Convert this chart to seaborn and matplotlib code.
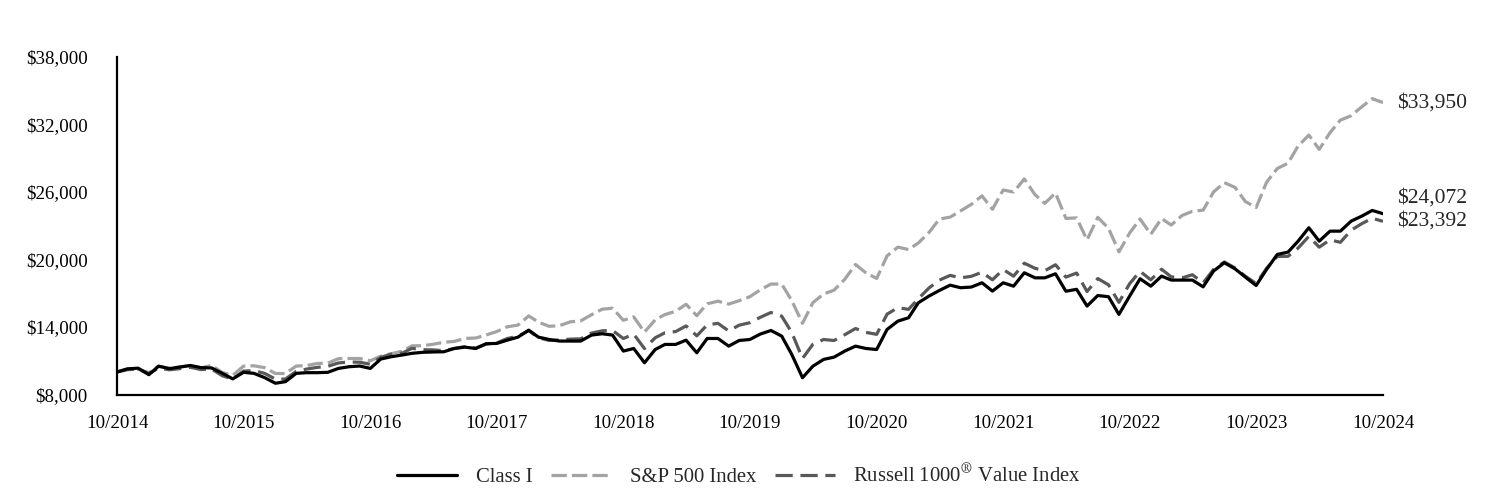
import pandas as pd
import matplotlib
matplotlib.use("Agg")
import matplotlib.pyplot as plt
from matplotlib.lines import Line2D
from matplotlib.ticker import FuncFormatter
import seaborn as sns

# growth of $10,000, month ends 10/2014 .. 10/2024
months = pd.date_range("2014-10-31", "2024-10-31", freq="ME")

class_i = [10000,
           10280, 10340, 9760, 10520, 10300, 10440, 10580, 10390, 10360, 9880, 9390, 9970,
           9880, 9500, 9000, 9140, 9880, 9940, 9940, 9970, 10320, 10470, 10530, 10320,
           11150, 11360, 11510, 11660, 11750, 11780, 11800, 12090, 12210, 12090, 12510, 12540,
           12830, 13100, 13720, 13100, 12890, 12750, 12750, 12750, 13280, 13400, 13280, 11860,
           12090, 10820, 12000, 12450, 12450, 12830, 11710, 12980, 12980, 12300, 12800, 12890,
           13370, 13690, 13190, 11560, 9490, 10520, 11120, 11320, 11860, 12300, 12090, 12000,
           13780, 14520, 14820, 16150, 16750, 17250, 17720, 17490, 17550, 17930, 17190, 17930,
           17630, 18820, 18370, 18370, 18730, 17180, 17350, 15860, 16800, 16690, 15120, 16750,
           18290, 17630, 18520, 18170, 18170, 18170, 17570, 18970, 19710, 19170, 18430, 17690,
           19120, 20450, 20660, 21630, 22820, 21630, 22520, 22520, 23410, 23860, 24360, 24072]

sp500 = [10000,
         10269, 10243, 9936, 10507, 10341, 10440, 10575, 10370, 10588, 9949, 9703, 10522,
         10553, 10387, 9872, 9859, 10528, 10569, 10759, 10787, 11185, 11201, 11203, 10999,
         11406, 11632, 11853, 12323, 12338, 12465, 12641, 12719, 12981, 13021, 13289, 13599,
         14016, 14172, 14984, 14431, 14064, 14118, 14458, 14548, 15089, 15581, 15670, 14598,
         14896, 13551, 14636, 15106, 15399, 16022, 15005, 16063, 16294, 16037, 16337, 16691,
         17297, 17820, 17813, 16347, 14328, 16165, 16935, 17272, 18246, 19558, 18815, 18314,
         20320, 21100, 20887, 21463, 22404, 23600, 23765, 24319, 24898, 25655, 24462, 26177,
         25996, 27161, 25757, 24987, 25914, 23654, 23697, 21742, 23746, 22777, 20679, 22354,
         23604, 22244, 23641, 23064, 23910, 24283, 24388, 26000, 26835, 26408, 25149, 24621,
         26869, 28089, 28561, 30086, 31055, 29788, 31265, 32387, 32782, 33579, 34298, 33950]

r1000v = [10000,
          10204, 10270, 9861, 10341, 10198, 10297, 10417, 10215, 10264, 9662, 9373, 10082,
          10125, 9877, 9368, 9374, 10049, 10259, 10411, 10502, 10805, 10890, 10868, 10691,
          11303, 11590, 11680, 12103, 11983, 11966, 11891, 12090, 12256, 12120, 12486, 12584,
          12976, 13172, 13681, 13040, 12807, 12846, 12920, 12949, 13457, 13661, 13689, 12978,
          13365, 12083, 13044, 13486, 13595, 14094, 13216, 14189, 14326, 13648, 14159, 14382,
          14858, 15291, 14962, 13514, 11204, 12462, 12889, 12799, 13315, 13866, 13524, 13347,
          15140, 15719, 15568, 16504, 17470, 18168, 18587, 18368, 18504, 18867, 18193, 19109,
          18519, 19672, 19216, 18996, 19534, 18435, 18796, 17155, 18307, 17746, 16192, 17854,
          18950, 18190, 19138, 18454, 18364, 18643, 17921, 19115, 19780, 19254, 18512, 17860,
          19209, 20274, 20285, 21017, 22053, 21095, 21746, 21527, 22603, 23190, 23668, 23392]

names = ["Class I", "S&P 500 Index", "Russell 1000® Value Index"]
legend_labels = ["Class I", "S&P 500 Index", r"Russell 1000$^{\circledR}$ Value Index"]

df = pd.DataFrame({"Date": months, names[0]: class_i, names[1]: sp500, names[2]: r1000v})
long_df = df.melt(id_vars="Date", var_name="Series", value_name="Value")

sns.set_theme(style="white")
plt.rcParams["font.family"] = ["Liberation Serif", "DejaVu Serif"]
plt.rcParams["mathtext.fontset"] = "stix"

colors = {names[0]: "#000000", names[1]: "#a3a3a3", names[2]: "#595959"}
dash_map = {names[0]: "", names[1]: (4.8, 1.6), names[2]: (5.4, 2.4)}
lw = 2.3

fig, ax = plt.subplots(figsize=(14.88, 4.92), dpi=100)
fig.subplots_adjust(left=117 / 1488, right=1383 / 1488, bottom=1 - 394.5 / 492, top=1 - 57 / 492)

sns.lineplot(data=long_df, x="Date", y="Value", hue="Series", style="Series",
             hue_order=[names[1], names[2], names[0]], style_order=[names[1], names[2], names[0]],
             palette=colors, dashes=dash_map, linewidth=lw, legend=False, ax=ax)

ax.set_xlim(months[0], months[-1])
ax.set_ylim(8000, 38000)
ax.set_yticks(range(8000, 38001, 6000))
ax.yaxis.set_major_formatter(FuncFormatter(lambda v, p: f"${v:,.0f}"))
xt = months[::12]
ax.set_xticks(xt)
ax.set_xticklabels([d.strftime("%m/%Y") for d in xt])
ax.set_xlabel("")
ax.set_ylabel("")
ax.tick_params(length=0, labelsize=13.6, colors="black")
ax.tick_params(axis="y", pad=21)
ax.tick_params(axis="x", pad=15)
sns.despine(ax=ax)
for s in ["left", "bottom"]:
    ax.spines[s].set_color("black")
    ax.spines[s].set_linewidth(1.6)

# end-value labels
ends = [(class_i[-1], 11.5), (sp500[-1], 0), (r1000v[-1], 0)]
for val, dy in ends:
    ax.annotate(f"${val:,}", xy=(months[-1], val), xytext=(10, dy), textcoords="offset points",
                va="center", ha="left", fontsize=15.5, annotation_clip=False)

handles = [Line2D([], [], color=colors[names[0]], lw=lw),
           Line2D([], [], color=colors[names[1]], lw=lw, dashes=dash_map[names[1]]),
           Line2D([], [], color=colors[names[2]], lw=lw, dashes=dash_map[names[2]])]
fig.legend(handles, legend_labels, loc="center", bbox_to_anchor=(739 / 1488, 1 - 476 / 492),
           ncol=3, frameon=False, fontsize=14.9, handlelength=2.9, handletextpad=0.9,
           columnspacing=0.9)

fig.savefig("out.png", dpi=100)
